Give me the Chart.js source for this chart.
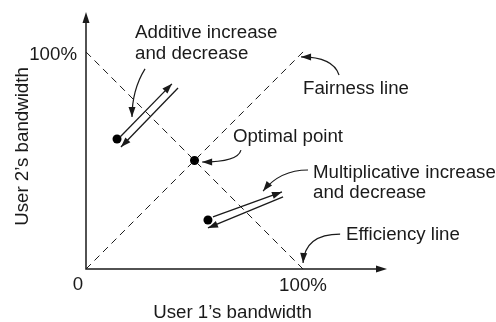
<!DOCTYPE html>
<html lang="en">
<head>
<meta charset="UTF-8">
<title>Additive vs multiplicative bandwidth adjustment</title>
<script src="https://cdn.jsdelivr.net/npm/chart.js"></script>
<style>
  body { margin: 0; background: #fff; }
  #chart { display: block; }
</style>
</head>
<body>
<canvas id="chart" width="496" height="322"></canvas>
<script>
// axis extent (percent of bandwidth), axes run past 100%
const xMax = 138.7;
const yMax = 118.4;

const fairnessLine = [{x: 0, y: 0}, {x: 100, y: 100}];
const efficiencyLine = [{x: 0, y: 100}, {x: 100, y: 0}];

const optimalPoint = [{x: 50, y: 50}];
const startPoints = [{x: 14.3, y: 59.9}, {x: 56.2, y: 22.6}];

// start -> tip
const additiveUp = [{x: 15.7, y: 60.8}, {x: 39.6, y: 85.3}];
const additiveDown = [{x: 42.4, y: 83.4}, {x: 16.1, y: 56.2}];
const multUp = [{x: 58.5, y: 24.0}, {x: 90.3, y: 35.5}];
const multDown = [{x: 90.8, y: 33.2}, {x: 56.2, y: 18.9}];

const tickLabels = ['0', '100%', '100%'];
const axisTitles = ['User 1’s bandwidth', 'User 2’s bandwidth'];

// text, left x, middle y (data units)
const notes = [
  ['Additive increase', 22.6, 108.8],
  ['and decrease', 22.6, 99.1],
  ['Fairness line', 100, 82.9],
  ['Optimal point', 67.7, 60.8],
  ['Multiplicative increase', 104.6, 44.2],
  ['and decrease', 104.6, 35.0],
  ['Efficiency line', 119.8, 15.7]
];

// curved pointers: start, control, tip
const pointers = [
  [[27.2, 92.2], [21.2, 82.5], [21.2, 70.0]],
  [[71.4, 54.8], [70.0, 49.3], [53.5, 49.3]],
  [[116.6, 89.4], [113.8, 97.7], [99.1, 97.7]],
  [[102.3, 45.6], [89.4, 45.6], [81.6, 35.9]],
  [[117.1, 16.1], [100.9, 16.1], [100.0, 2.8]]
];

const ink = '#1a1a1a';
const font = '18.7px "Liberation Sans", Arial, sans-serif';

function arrowHead(ctx, fx, fy, tx, ty, len, half) {
  const a = Math.atan2(ty - fy, tx - fx);
  const c = Math.cos(a), s = Math.sin(a);
  ctx.beginPath();
  ctx.moveTo(tx, ty);
  ctx.lineTo(tx - len * c + half * s, ty - len * s - half * c);
  ctx.lineTo(tx - len * c - half * s, ty - len * s + half * c);
  ctx.closePath();
  ctx.fill();
}

const dashed = data => ({
  data, showLine: true, borderColor: ink, borderWidth: 1,
  borderDash: [7, 5], pointRadius: 0
});
const solid = data => ({
  data, showLine: true, borderColor: ink, borderWidth: 1.3,
  pointRadius: 0, arrow: true
});
const dots = data => ({
  data, showLine: false, pointRadius: 4.5, pointBackgroundColor: '#000',
  pointBorderWidth: 0
});

const decor = {
  id: 'decor',
  afterDatasetsDraw(chart) {
    const { ctx, scales: { x, y } } = chart;
    const px = v => x.getPixelForValue(v);
    const py = v => y.getPixelForValue(v);
    ctx.save();
    ctx.strokeStyle = ink;
    ctx.fillStyle = ink;

    // axes
    ctx.lineWidth = 1.5;
    ctx.beginPath();
    ctx.moveTo(px(0), py(yMax) + 6);
    ctx.lineTo(px(0), py(0));
    ctx.lineTo(px(xMax) - 6, py(0));
    ctx.stroke();
    arrowHead(ctx, px(0), py(0), px(xMax), py(0), 11, 3.5);
    arrowHead(ctx, px(0), py(0), px(0), py(yMax), 11, 3.5);

    // arrowheads on the move segments
    chart.data.datasets.forEach(ds => {
      if (!ds.arrow) return;
      const [a, b] = ds.data;
      arrowHead(ctx, px(a.x), py(a.y), px(b.x), py(b.y), 10, 3.5);
    });

    // curved pointers
    ctx.lineWidth = 1.2;
    pointers.forEach(([s, c, t]) => {
      ctx.beginPath();
      ctx.moveTo(px(s[0]), py(s[1]));
      ctx.quadraticCurveTo(px(c[0]), py(c[1]), px(t[0]), py(t[1]));
      ctx.stroke();
      arrowHead(ctx, px(c[0]), py(c[1]), px(t[0]), py(t[1]), 10, 3.5);
    });

    // text
    ctx.font = font;
    ctx.textBaseline = 'middle';
    ctx.textAlign = 'left';
    notes.forEach(([t, nx, ny]) => ctx.fillText(t, px(nx), py(ny)));

    ctx.textAlign = 'center';
    ctx.fillText(tickLabels[0], px(0) - 8, py(0) + 16);
    ctx.fillText(tickLabels[1], px(100), py(0) + 17);
    ctx.textAlign = 'right';
    ctx.fillText(tickLabels[2], px(0) - 9, py(100) + 3);

    ctx.textAlign = 'center';
    ctx.fillText(axisTitles[0], (x.left + x.right) / 2 - 4, py(0) + 44);
    ctx.translate(px(0) - 63, (y.top + y.bottom) / 2 + 6);
    ctx.rotate(-Math.PI / 2);
    ctx.fillText(axisTitles[1], 0, 0);
    ctx.restore();
  }
};

new Chart(document.getElementById('chart'), {
  type: 'scatter',
  data: {
    datasets: [
      dashed(fairnessLine),
      dashed(efficiencyLine),
      solid(additiveUp),
      solid(additiveDown),
      solid(multUp),
      solid(multDown),
      dots(optimalPoint),
      dots(startPoints)
    ]
  },
  options: {
    responsive: false,
    animation: false,
    layout: { padding: { left: 86, right: 109, top: 12, bottom: 53 } },
    scales: {
      x: { type: 'linear', min: 0, max: xMax, display: false },
      y: { type: 'linear', min: 0, max: yMax, display: false }
    },
    plugins: { legend: { display: false }, tooltip: { enabled: false } }
  },
  plugins: [decor]
});
</script>
</body>
</html>
